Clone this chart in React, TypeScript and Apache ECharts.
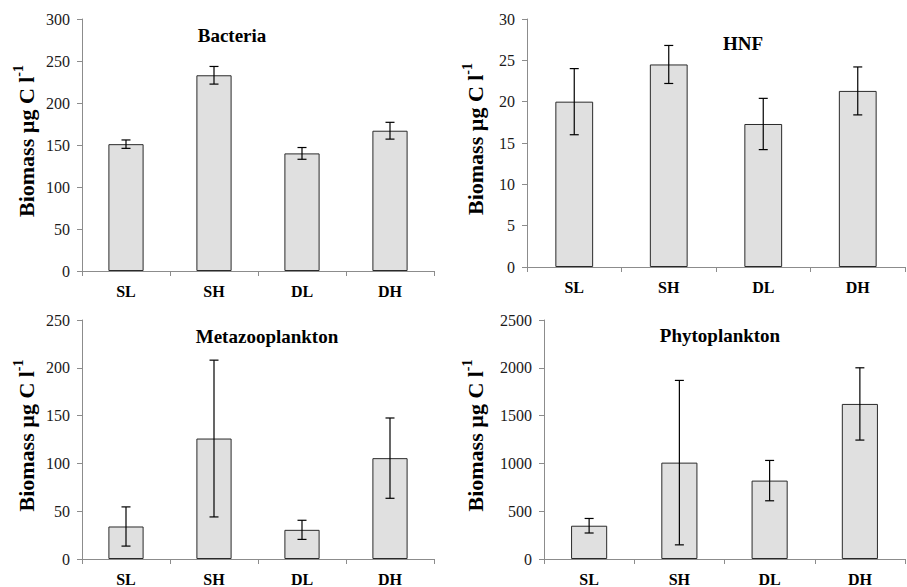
import React, { useEffect, useRef } from "react";
import * as echarts from "echarts";

const categories = ["SL", "SH", "DL", "DH"];

const bacteria = [151, 233, 140, 167];
const bacteriaErr = [5, 10.5, 7, 10];

const hnf = [20, 24.5, 17.3, 21.3];
const hnfErr = [4, 2.3, 3.1, 2.9];

const metazoo = [34, 126, 30.5, 105.5];
const metazooErr = [20.5, 82, 10, 42];

const phyto = [348, 1008, 820, 1622];
const phytoErr = [76, 860, 211, 378];

const titles = ["Bacteria", "HNF", "Metazooplankton", "Phytoplankton"];
const yMax = [300, 30, 250, 2500];
const yStep = [50, 5, 50, 500];
const yNameText = "{a|Biomass µg C l}{b|-1}";

const FONT = "Liberation Serif";

export default function App() {
  const ref = useRef<HTMLDivElement>(null);
  useEffect(() => {
    document.body.style.margin = "0";
    if (!ref.current) return;
    const chart = echarts.init(ref.current, null, { renderer: "svg" });

    const values = [bacteria, hnf, metazoo, phyto];
    const errs = [bacteriaErr, hnfErr, metazooErr, phytoErr];

    const grids = [
      { left: 82, top: 19, width: 352, height: 252 },
      { left: 527, top: 19, width: 378, height: 248 },
      { left: 82, top: 320, width: 352, height: 241 },
      { left: 544, top: 320, width: 361, height: 241 },
    ];
    const nameGaps = [45, 41, 45, 58];
    const titlePos = [
      [232, 35],
      [743, 43],
      [267, 336],
      [720, 335],
    ];

    const axisColor = "#8c8c8c";

    const xAxis = grids.map((_, i) => ({
      type: "category",
      gridIndex: i,
      data: categories,
      axisLine: { show: true, lineStyle: { color: axisColor, width: 1 } },
      axisTick: { show: true, length: 5, lineStyle: { color: axisColor } },
      axisLabel: {
        margin: 12,
        fontFamily: FONT,
        fontWeight: "bold",
        fontSize: 16,
        color: "#000",
      },
      splitLine: { show: false },
    }));

    const yAxis = grids.map((_, i) => ({
      type: "value",
      gridIndex: i,
      min: 0,
      max: yMax[i],
      interval: yStep[i],
      name: yNameText,
      nameLocation: "middle",
      nameRotate: 90,
      nameGap: nameGaps[i],
      nameTextStyle: {
        fontFamily: FONT,
        fontWeight: "bold",
        fontSize: 22,
        color: "#000",
        padding: [0, 0, 0, 8],
        rich: {
          a: {
            fontFamily: FONT,
            fontWeight: "bold",
            fontSize: 22,
            color: "#000",
            lineHeight: 26,
            verticalAlign: "bottom",
          },
          b: {
            fontFamily: FONT,
            fontWeight: "bold",
            fontSize: 14,
            color: "#000",
            lineHeight: 26,
            verticalAlign: "top",
          },
        },
      },
      axisLine: { show: true, lineStyle: { color: axisColor, width: 1 } },
      axisTick: { show: true, length: 5, lineStyle: { color: axisColor } },
      axisLabel: {
        margin: 12,
        fontFamily: FONT,
        fontSize: 16,
        color: "#1a1a1a",
        formatter: (v: number) => String(v),
      },
      splitLine: { show: false },
    }));

    const series: any[] = [];
    values.forEach((vals, i) => {
      series.push({
        type: "bar",
        xAxisIndex: i,
        yAxisIndex: i,
        data: vals,
        barWidth: "40%",
        itemStyle: { color: "#e0e0e0", borderColor: "#2a2a2a", borderWidth: 1 },
        silent: true,
      });
      series.push({
        type: "custom",
        xAxisIndex: i,
        yAxisIndex: i,
        data: vals.map((v, k) => [k, v - errs[i][k], v + errs[i][k]]),
        encode: { x: 0, y: [1, 2] },
        z: 5,
        silent: true,
        renderItem: (params: any, api: any) => {
          const x = api.value(0);
          const lo = api.coord([x, api.value(1)]);
          const hi = api.coord([x, api.value(2)]);
          const cap = 4.5;
          const style = { stroke: "#000", lineWidth: 1.2 };
          return {
            type: "group",
            children: [
              { type: "line", shape: { x1: lo[0], y1: lo[1], x2: hi[0], y2: hi[1] }, style },
              { type: "line", shape: { x1: lo[0] - cap, y1: lo[1], x2: lo[0] + cap, y2: lo[1] }, style },
              { type: "line", shape: { x1: hi[0] - cap, y1: hi[1], x2: hi[0] + cap, y2: hi[1] }, style },
            ],
          };
        },
      });
    });

    const graphic = titles.map((t, i) => ({
      type: "text",
      x: titlePos[i][0],
      y: titlePos[i][1],
      style: {
        text: t,
        fontFamily: FONT,
        fontWeight: "bold",
        fontSize: 19,
        fill: "#000",
        textAlign: "center",
        textVerticalAlign: "middle",
      },
    }));

    chart.setOption({
      animation: false,
      backgroundColor: "#fff",
      grid: grids,
      xAxis,
      yAxis,
      series,
      graphic,
    } as any);

    return () => chart.dispose();
  }, []);
  return <div ref={ref} style={{ width: 907, height: 587 }} />;
}
